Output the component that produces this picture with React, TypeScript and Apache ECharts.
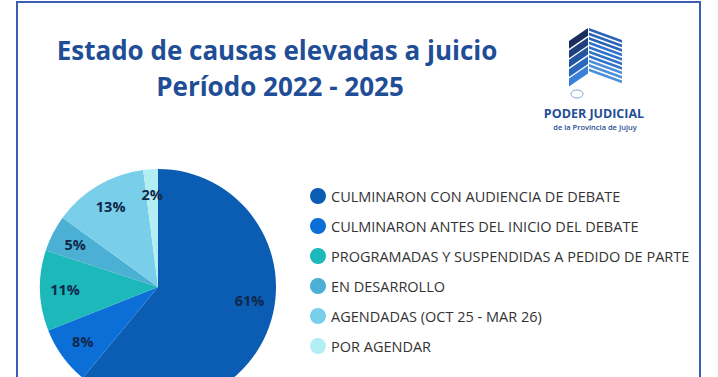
import React, { useEffect, useRef } from "react";
import * as echarts from "echarts";

const categories = [
  "CULMINARON CON AUDIENCIA DE DEBATE",
  "CULMINARON ANTES DEL INICIO DEL DEBATE",
  "PROGRAMADAS Y SUSPENDIDAS A PEDIDO DE PARTE",
  "EN DESARROLLO",
  "AGENDADAS (OCT 25 - MAR 26)",
  "POR AGENDAR",
];
const percentages = [61, 8, 11, 5, 13, 2];
const colors = ["#0B5DB3", "#0C6FD8", "#1CB8BA", "#4BB0D3", "#79CFEA", "#B3EEF4"];
const titleLines = ["Estado de causas elevadas a juicio", "Período 2022 - 2025"];
const logoTitle = "PODER JUDICIAL";
const logoSubtitle = "de la Provincia de Jujuy";

const FONT = "'Open Sans', 'Noto Sans', sans-serif";

function logoGraphics() {
  const els: any[] = [];
  const leftColors = ["#1A2D5C", "#1F3F7E", "#24559F", "#2A68BC", "#3A80D6"];
  for (let i = 0; i < 5; i++) {
    const o = i * 9.4;
    els.push({
      type: "polygon",
      shape: { points: [[569, 41 + o], [588, 28 + o], [588, 35.8 + o], [569, 48.8 + o]] },
      style: { fill: leftColors[i] },
      silent: true,
    });
  }
  for (let i = 0; i < 10; i++) {
    const o = i * 4.5;
    const c = i < 3 ? "#2B63B8" : i < 7 ? "#2F72C9" : "#4A8FDB";
    els.push({
      type: "polygon",
      shape: { points: [[589, 28 + o], [622, 40 + o], [622, 42.8 + o], [589, 30.8 + o]] },
      style: { fill: c },
      silent: true,
    });
  }
  els.push({
    type: "ellipse",
    shape: { cx: 577, cy: 94, rx: 6, ry: 4 },
    style: { fill: "#FFFFFF", stroke: "#7E9FD0", lineWidth: 1 },
    silent: true,
  });
  els.push({
    type: "text",
    x: 594,
    y: 113,
    style: {
      text: logoTitle,
      fill: "#1F4E96",
      font: `bold 12.5px ${FONT}`,
      textAlign: "center",
      textVerticalAlign: "middle",
    },
    silent: true,
  });
  els.push({
    type: "text",
    x: 595,
    y: 127,
    style: {
      text: logoSubtitle,
      fill: "#1F4E96",
      font: `600 7.5px ${FONT}`,
      textAlign: "center",
      textVerticalAlign: "middle",
    },
    silent: true,
  });
  return els;
}

export default function App() {
  const ref = useRef<HTMLDivElement>(null);
  useEffect(() => {
    document.body.style.margin = "0";
    const chart = echarts.init(ref.current!, null, { renderer: "svg" });
    const data = categories.map((name, i) => ({
      name,
      value: percentages[i],
      itemStyle: { color: colors[i] },
    }));
    chart.setOption({
      animation: false,
      backgroundColor: "#FFFFFF",
      legend: {
        orient: "vertical",
        left: 305,
        top: 183,
        icon: "circle",
        itemWidth: 16,
        itemHeight: 16,
        itemGap: 14,
        data: categories,
        selectedMode: false,
        textStyle: { fontFamily: FONT, fontSize: 14.5, color: "#333333" },
      },
      graphic: [
        {
          type: "rect",
          shape: { x: 17, y: 2, width: 683, height: 400 },
          style: { fill: "none", stroke: "#3C5DB3", lineWidth: 2 },
          silent: true,
          z: -1,
        },
        {
          type: "text",
          x: 277,
          y: 50,
          style: {
            text: titleLines[0],
            fill: "#1F4E96",
            font: `bold 26px ${FONT}`,
            textAlign: "center",
            textVerticalAlign: "middle",
          },
          silent: true,
        },
        {
          type: "text",
          x: 280,
          y: 86,
          style: {
            text: titleLines[1],
            fill: "#1F4E96",
            font: `bold 26px ${FONT}`,
            textAlign: "center",
            textVerticalAlign: "middle",
          },
          silent: true,
        },
        ...logoGraphics(),
      ],
      series: [
        {
          type: "pie",
          center: [158, 287],
          radius: [0, 118],
          startAngle: 90,
          clockwise: true,
          silent: true,
          label: { show: false },
          labelLine: { show: false },
          itemStyle: { borderWidth: 0 },
          data,
        },
        {
          type: "pie",
          center: [158, 287],
          radius: [62, 118],
          startAngle: 90,
          clockwise: true,
          silent: true,
          itemStyle: { color: "rgba(0,0,0,0)", borderWidth: 0 },
          label: {
            show: true,
            position: "inside",
            formatter: "{c}%",
            fontFamily: FONT,
            fontSize: 14.5,
            fontWeight: "bold",
            color: "#10284A",
          },
          labelLine: { show: false },
          data: categories.map((name, i) => ({
            name,
            value: percentages[i],
            label: i === 0 ? { offset: [4, -18] } : undefined,
          })),
        },
      ],
    });
    return () => chart.dispose();
  }, []);
  return (
    <div
      ref={ref}
      style={{ position: "absolute", left: 0, top: 0, width: 718, height: 377 }}
    />
  );
}
